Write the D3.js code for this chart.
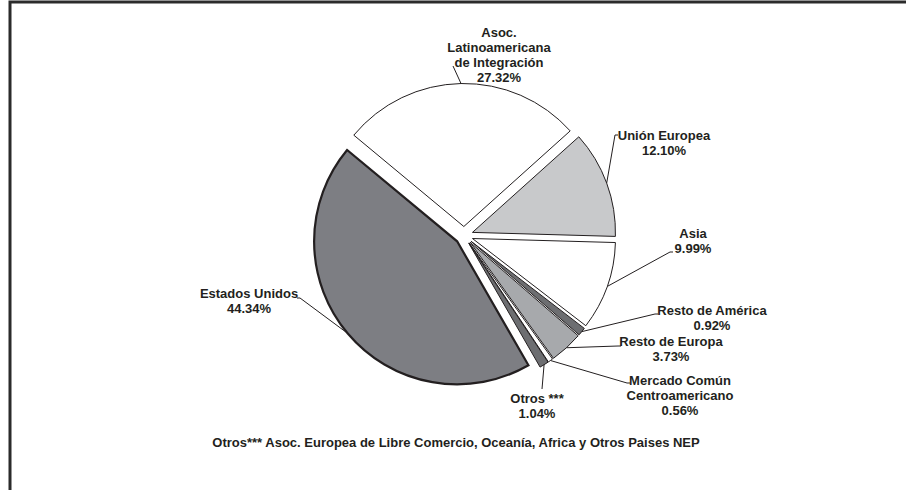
<!DOCTYPE html>
<html>
<head>
<meta charset="utf-8">
<script src="https://cdn.jsdelivr.net/npm/d3@7"></script>
<style>
  body { margin: 0; background: #fff; }
  svg { display: block; }
  text { font-family: "Liberation Sans", Arial, sans-serif; font-weight: bold; font-size: 13px; fill: #231f20; }
</style>
</head>
<body>
<svg id="svg" width="906" height="490"></svg>
<script>
// datos (porcentajes)
var categorias = ["Asoc. Latinoamericana de Integración", "Unión Europea", "Asia", "Resto de América",
                  "Resto de Europa", "Mercado Común Centroamericano", "Otros ***", "Estados Unidos"];
var valores = [27.32, 12.10, 9.99, 0.92, 3.73, 0.56, 1.04, 44.34];
var lineasEtiqueta = [["Asoc.", "Latinoamericana", "de Integración"], ["Unión Europea"], ["Asia"], ["Resto de América"],
                      ["Resto de Europa"], ["Mercado Común", "Centroamericano"], ["Otros ***"], ["Estados Unidos"]];
var colores = ["#ffffff", "#c8c9cb", "#ffffff", "#6d6e71", "#a7a9ac", "#ffffff", "#6d6e71", "#7d7e83"];
var nota = "Otros*** Asoc. Europea de Libre Comercio, Oceanía, Africa y Otros Paises NEP";

// posicion de las etiquetas (centro x, primera linea y) y fin de la linea guia
var etiqX = [499, 664, 693, 712, 671, 680, 537, 249];
var etiqY = [37, 140, 238, 315, 346, 385, 403, 298];
var guiaFin = [[453, 66], [615, 135], [670, 252], [655, 314], [618, 346], [627, 383], [542, 389], [300, 298]];

var svg = d3.select("#svg");

// marco
svg.append("path")
  .attr("d", "M10,490V2H906")
  .attr("fill", "none")
  .attr("stroke", "#2b2b2b")
  .attr("stroke-width", 3);

var cx = 464, cy = 235.5, radio = 143, separacion = 9;
var inicio = -50.3 * Math.PI / 180;

var pie = d3.pie().sort(null).startAngle(inicio).endAngle(inicio + 2 * Math.PI);
var arcos = pie(valores);
var arc = d3.arc().innerRadius(0).outerRadius(radio);

var gPie = svg.append("g").attr("transform", "translate(" + cx + "," + cy + ")");

function desplazamiento(d) {
  var a = (d.startAngle + d.endAngle) / 2;
  return [separacion * Math.sin(a), -separacion * Math.cos(a)];
}

gPie.selectAll("path.slice")
  .data(arcos)
  .enter()
  .append("path")
  .attr("class", "slice")
  .attr("d", arc)
  .attr("transform", function(d) { var o = desplazamiento(d); return "translate(" + o[0] + "," + o[1] + ")"; })
  .attr("fill", function(d, i) { return colores[i]; })
  .attr("stroke", "#231f20")
  .attr("stroke-width", function(d, i) { return i == 7 ? 2.2 : 1; })
  .attr("stroke-linejoin", "miter");

// lineas guia
arcos.forEach(function(d, i) {
  var a = (d.startAngle + d.endAngle) / 2;
  var o = desplazamiento(d);
  var x0 = cx + o[0] + radio * Math.sin(a);
  var y0 = cy + o[1] - radio * Math.cos(a);
  var f = guiaFin[i];
  var dir = f[0] > x0 ? 1 : -1;
  var pts = [[x0, y0], [f[0], f[1]]];
  if (i != 0 && i != 6) pts.push([f[0] + 3 * dir, f[1]]);
  svg.append("path")
    .attr("d", d3.line()(pts))
    .attr("fill", "none")
    .attr("stroke", "#231f20")
    .attr("stroke-width", 1);
});

// etiquetas
arcos.forEach(function(d, i) {
  var lineas = lineasEtiqueta[i].concat([valores[i].toFixed(2) + "%"]);
  var t = svg.append("text")
    .attr("text-anchor", "middle")
    .attr("x", etiqX[i])
    .attr("y", etiqY[i]);
  lineas.forEach(function(l, k) {
    t.append("tspan").attr("x", etiqX[i]).attr("dy", k == 0 ? 0 : 15).text(l);
  });
});

// nota
svg.append("text")
  .attr("text-anchor", "middle")
  .attr("x", 456)
  .attr("y", 447)
  .text(nota);
</script>
</body>
</html>
